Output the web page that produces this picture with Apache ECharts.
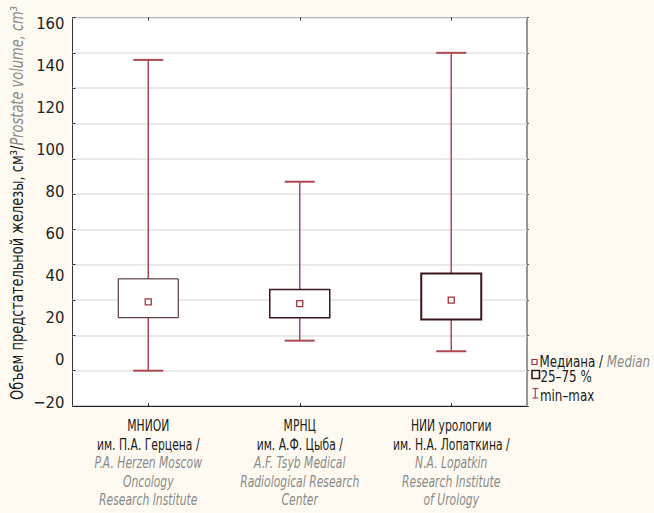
<!DOCTYPE html>
<html>
<head>
<meta charset="utf-8">
<script src="https://cdn.jsdelivr.net/npm/echarts@6/dist/echarts.min.js"></script>
<style>
html,body{margin:0;padding:0;background:#fefaf2;}
#c{width:654px;height:513px;}
</style>
</head>
<body>
<div id="c"></div>
<script>
// ---- data ----
const categories = ['МНИОИ', 'МРНЦ', 'НИИ урологии'];
const ruSubtitles = ['им. П.А. Герцена /', 'им. А.Ф. Цыба /', 'им. Н.А. Лопаткина /'];
const enNames = ['P.A. Herzen Moscow\nOncology\nResearch Institute', 'A.F. Tsyb Medical\nRadiological Research\nCenter', 'N.A. Lopatkin\nResearch Institute\nof Urology'];
const minValues = [0, 17, 11];
const q1Values = [30, 30, 29];
const medianValues = [39, 38, 40];
const q3Values = [52, 46, 55];
const maxValues = [176, 107, 180];
const gridScale = [-20, 200, 20];      // scale of the plotted values and grid lines
const tickLabels = [-20, 0, 20, 40, 60, 80, 100, 120, 140, 160];
const yTitleRu = 'Объем предстательной железы, см³';
const yTitleEn = 'Prostate volume, cm³';
const legendLabels = ['Медиана / ', 'Median', '25–75 %', 'min–max'];

const FONT = '"DejaVu Sans Condensed", "Liberation Sans Narrow", sans-serif';
const NARROW = 0.8;
const boxBorderWidths = [1, 1.5, 2];
const WHISKER = '#ad4852';
const BOXC = '#3a1519';

const boxData = categories.map((c, i) => [i, minValues[i], q1Values[i], medianValues[i], q3Values[i], maxValues[i]]);
const labelData = categories.map((c, i) => [i, gridScale[0]]);

const chart = echarts.init(document.getElementById('c'), null, {renderer: 'svg'});

function renderBox(params, api) {
  const idx = api.value(0);
  const cx = api.coord([idx, 0])[0];
  const y = k => api.coord([idx, api.value(k)])[1];
  const yMin = y(1), yQ1 = y(2), yMed = y(3), yQ3 = y(4), yMax = y(5);
  const band = api.size([1, 0])[0];
  const bw = band * 0.396, cw = band * 0.198;
  const lw = boxBorderWidths[params.dataIndex];
  const ls = {stroke: WHISKER, lineWidth: 1.5, fill: null};
  return {
    type: 'group',
    children: [
      {type: 'line', shape: {x1: cx, y1: yMax, x2: cx, y2: yQ3}, style: ls},
      {type: 'line', shape: {x1: cx, y1: yQ1, x2: cx, y2: yMin}, style: ls},
      {type: 'line', shape: {x1: cx - cw / 2, y1: yMax, x2: cx + cw / 2, y2: yMax}, style: {stroke: WHISKER, lineWidth: 2}},
      {type: 'line', shape: {x1: cx - cw / 2, y1: yMin, x2: cx + cw / 2, y2: yMin}, style: {stroke: WHISKER, lineWidth: 2}},
      {type: 'rect', shape: {x: cx - bw / 2, y: yQ3, width: bw, height: yQ1 - yQ3}, style: {fill: '#fff', stroke: BOXC, lineWidth: lw}},
      {type: 'rect', shape: {x: cx - 3, y: yMed - 3, width: 6, height: 6}, style: {fill: '#fff', stroke: '#a3303c', lineWidth: 1.3}}
    ]
  };
}

function renderCatLabel(params, api) {
  const idx = api.value(0);
  const p = api.coord([idx, api.value(1)]);
  const i = params.dataIndex;
  const en = enNames[i].split('\n').map(s => '{en|' + s + '}').join('\n');
  return {
    type: 'text', x: p[0], y: p[1] + 10.5, scaleX: NARROW,
    style: {
      text: '{ru|' + categories[i] + '}\n{ru|' + ruSubtitles[i] + '}\n' + en,
      align: 'center', verticalAlign: 'top',
      rich: {
        ru: {fontFamily: FONT, fontSize: 15, fill: '#1a1a1a', lineHeight: 18.5, align: 'center'},
        en: {fontFamily: FONT, fontSize: 15, fill: '#8a8a8a', fontStyle: 'italic', lineHeight: 18.5, align: 'center'}
      }
    }
  };
}

const option = {
  backgroundColor: '#fefaf2',
  animation: false,
  grid: [
    {left: 72.5, top: 17.5, right: 127, bottom: 107, show: true, backgroundColor: '#fff', borderColor: '#333', borderWidth: 1, containLabel: false},
    {left: 72.5, top: 23.5, right: 127, bottom: 111, show: false, containLabel: false}
  ],
  xAxis: [
    {
      type: 'category', gridIndex: 0, data: categories, position: 'bottom',
      axisLine: {show: true, onZero: false, lineStyle: {color: '#222', width: 1}},
      axisTick: {show: true, inside: true, length: 3, alignWithLabel: true, lineStyle: {color: '#333'}},
      axisLabel: {show: false}
    },
    {
      type: 'category', gridIndex: 0, data: categories, position: 'top',
      axisLine: {show: false, onZero: false},
      axisTick: {show: true, inside: true, length: 3, alignWithLabel: true, lineStyle: {color: '#333'}},
      axisLabel: {show: false}
    },
    {type: 'value', gridIndex: 1, show: false}
  ],
  yAxis: [
    {
      type: 'value', gridIndex: 0, min: gridScale[0], max: gridScale[1], interval: gridScale[2],
      axisLine: {show: false},
      axisTick: {show: true, inside: true, length: 3, lineStyle: {color: '#333'}},
      axisLabel: {show: false},
      splitLine: {show: true, lineStyle: {color: '#e2e2e2', width: 1.5}}
    },
    {
      type: 'value', gridIndex: 0, position: 'right', min: gridScale[0], max: gridScale[1], interval: gridScale[2],
      axisLine: {show: false},
      axisTick: {show: true, inside: false, length: 2, lineStyle: {color: '#555'}},
      axisLabel: {show: false}, splitLine: {show: false}
    },
    {
      type: 'value', gridIndex: 1, min: tickLabels[0], max: tickLabels[tickLabels.length - 1], interval: tickLabels[1] - tickLabels[0],
      axisLine: {show: false}, axisTick: {show: false}, splitLine: {show: false},
      axisLabel: {show: true, margin: 8, fontFamily: FONT, fontSize: 16.5, color: '#222',
        formatter: v => (v < 0 ? '\u2212' + Math.abs(v) : String(v))}
    }
  ],
  series: [
    {
      type: 'custom', xAxisIndex: 0, yAxisIndex: 0,
      renderItem: renderBox,
      encode: {x: 0, y: [1, 2, 3, 4, 5]},
      data: boxData,
      z: 10
    },
    {
      type: 'custom', xAxisIndex: 0, yAxisIndex: 0, clip: false, silent: true,
      renderItem: renderCatLabel,
      encode: {x: 0, y: 1},
      data: labelData,
      z: 10
    }
  ],
  graphic: [
    {
      type: 'text', x: 17, y: 203, rotation: Math.PI / 2, scaleX: 0.85,
      style: {
        text: '{ru|' + yTitleRu + '}{ru|/}{en|' + yTitleEn + '}',
        align: 'center', verticalAlign: 'middle',
        rich: {
          ru: {fontFamily: FONT, fontSize: 17, fill: '#1a1a1a'},
          en: {fontFamily: FONT, fontSize: 17, fill: '#8a8a8a', fontStyle: 'italic'}
        }
      }
    },
    // legend
    {type: 'rect', shape: {x: 532, y: 359.5, width: 5, height: 5}, style: {fill: '#fff', stroke: '#a3303c', lineWidth: 1.2}},
    {type: 'text', x: 539.5, y: 361, scaleX: NARROW, style: {text: '{a|' + legendLabels[0] + '}{b|' + legendLabels[1] + '}', verticalAlign: 'middle',
      rich: {a: {fontFamily: FONT, fontSize: 16.5, fill: '#1a1a1a'}, b: {fontFamily: FONT, fontSize: 16.5, fill: '#8a8a8a', fontStyle: 'italic'}}}},
    {type: 'rect', shape: {x: 532, y: 370.5, width: 7.5, height: 8}, style: {fill: '#fff', stroke: BOXC, lineWidth: 1.6}},
    {type: 'text', x: 540.5, y: 376, scaleX: NARROW, style: {text: legendLabels[2], verticalAlign: 'middle', fontFamily: FONT, fontSize: 16.5, fill: '#1a1a1a'}},
    {type: 'line', shape: {x1: 535.3, y1: 388.5, x2: 535.3, y2: 398}, style: {stroke: WHISKER, lineWidth: 1.2}},
    {type: 'line', shape: {x1: 532.5, y1: 388.5, x2: 538.2, y2: 388.5}, style: {stroke: WHISKER, lineWidth: 1.2}},
    {type: 'line', shape: {x1: 532.5, y1: 398, x2: 538.2, y2: 398}, style: {stroke: WHISKER, lineWidth: 1.2}},
    {type: 'text', x: 540, y: 395, scaleX: NARROW, style: {text: legendLabels[3], verticalAlign: 'middle', fontFamily: FONT, fontSize: 16.5, fill: '#1a1a1a'}}
  ]
};
chart.setOption(option);
</script>
</body>
</html>
